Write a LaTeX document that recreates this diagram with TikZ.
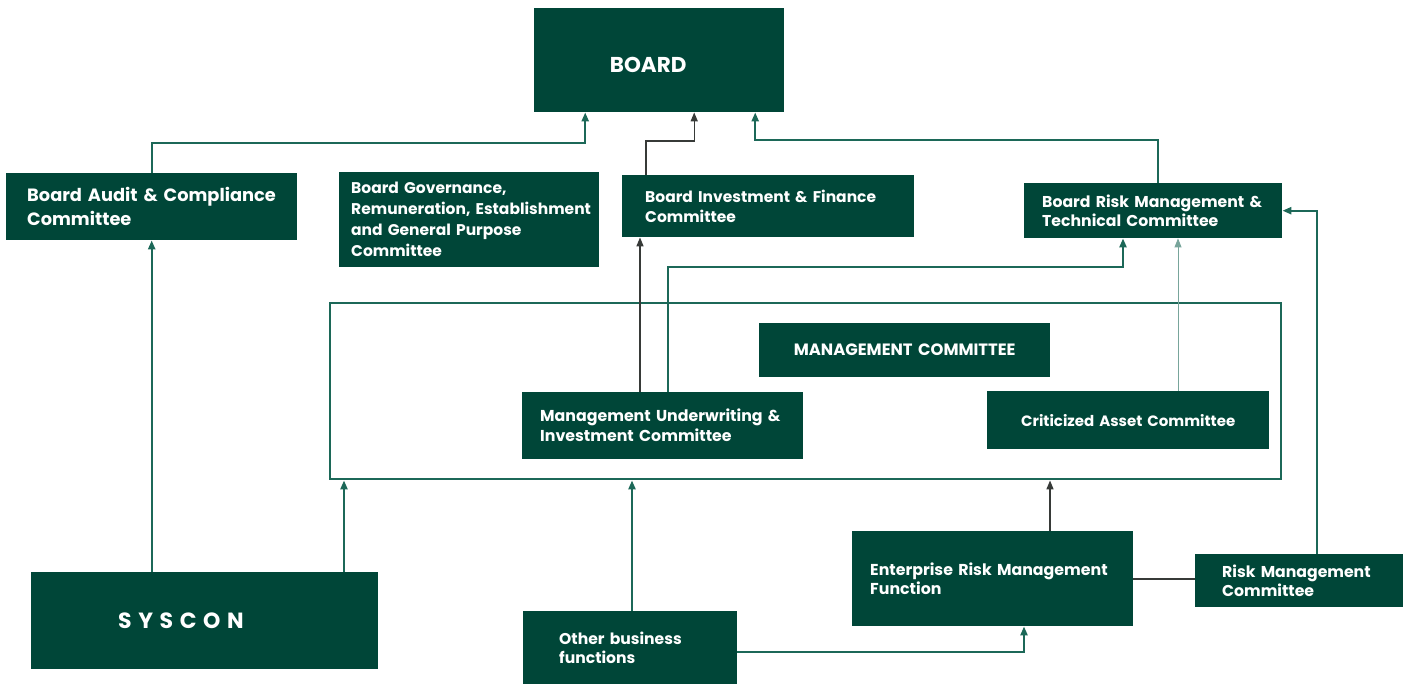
\documentclass[tikz,border=0pt]{standalone}
\usepackage{fontspec}
\setmainfont{Poppins}
\usetikzlibrary{arrows.meta}
\definecolor{boxgreen}{RGB}{0,70,56}
\definecolor{linkteal}{RGB}{28,104,88}
\definecolor{linkdark}{RGB}{55,58,56}
\definecolor{linklight}{RGB}{120,165,155}
\begin{document}
\begin{tikzpicture}[x=1pt,y=-1pt,
  box/.style={fill=boxgreen,text=white,anchor=north west,inner ysep=0pt,
    align=left,font=\bfseries\fontsize{15.7}{19.5}\selectfont},
  cbox/.style={box,align=center},
  tip/.style={-{Triangle[length=9pt,width=7pt]}},
  tealink/.style={draw=linkteal,line width=2.2pt,tip},
  darklink/.style={draw=linkdark,line width=1.4pt,tip},
  lightlink/.style={draw=linklight,line width=0.9pt,tip},
  frame/.style={draw=linkteal,line width=2.4pt}]
\useasboundingbox (0,0) rectangle (1407,684);

% boxes
\node[cbox,minimum height=104pt,text width=250pt,inner xsep=0pt,
  font=\bfseries\fontsize{21.5}{24}\selectfont] (board) at (534,8)
  {\hspace*{-22pt}\rule{0pt}{24pt}BOARD};
\node[box,minimum height=67pt,inner xsep=21pt,text width=249pt,
  font=\bfseries\fontsize{17.8}{24}\selectfont] (bacc) at (6,173)
  {\mbox{Board Audit \& Compliance}\\Committee};
\node[box,minimum height=95pt,inner xsep=12pt,text width=236pt,
  font=\bfseries\fontsize{15.5}{21}\selectfont] (bgov) at (339,172)
  {\mbox{Board Governance,}\\\mbox{Remuneration, Establishment}\\\mbox{and General Purpose}\\Committee};
\node[box,minimum height=62pt,inner xsep=23pt,text width=246pt,
  font=\bfseries\fontsize{15.5}{19.5}\selectfont] (bifc) at (622,175)
  {\mbox{Board Investment \& Finance}\\Committee};
\node[box,minimum height=55pt,inner xsep=18pt,text width=222pt] (brmtc) at (1024,183)
  {\mbox{Board Risk Management \&}\\\mbox{Technical Committee}};

% management committee frame
\node[frame,anchor=north west,minimum width=951pt,minimum height=176pt,inner sep=0pt] (mgmt) at (329,302) {};
\node[cbox,minimum height=54pt,inner xsep=0pt,text width=291pt,
  font=\bfseries\fontsize{16.4}{19.5}\selectfont] (mc) at (759,323) {MANAGEMENT COMMITTEE};
\node[box,minimum height=67pt,inner xsep=18pt,text width=245pt,
  font=\bfseries\fontsize{15.8}{20}\selectfont] (muic) at (522,392)
  {\mbox{Management Underwriting \&}\\\mbox{Investment Committee}};
\node[cbox,minimum height=58pt,inner xsep=0pt,text width=282pt,
  font=\bfseries\fontsize{15}{19.5}\selectfont] (cac) at (987,391) {Criticized Asset Committee};

% lower boxes
\node[box,minimum height=97pt,inner xsep=0pt,text width=347pt,
  font=\bfseries\fontsize{22}{24}\selectfont] (syscon) at (31,572)
  {\hspace*{87pt}\addfontfeature{LetterSpace=30}SYSCON};
\node[box,minimum height=73pt,inner xsep=36pt,text width=142pt,
  font=\bfseries\fontsize{15.6}{19.5}\selectfont] (obf) at (523,611)
  {\mbox{Other business}\\functions};
\node[box,minimum height=95pt,inner xsep=18pt,text width=245pt,
  font=\bfseries\fontsize{15.8}{18.5}\selectfont] (ermf) at (852,531)
  {\mbox{Enterprise Risk Management}\\Function};
\node[box,minimum height=53pt,inner xsep=27pt,text width=154pt] (rmc) at (1195,554)
  {\mbox{Risk Management}\\Committee};

% reporting lines to the board
\draw[tealink] (bacc.north) -- ++(0,-30) -| ([xshift=-74pt]board.south);
\draw[darklink] ([xshift=24pt]bifc.north west) -- ++(0,-34) -| ([xshift=35pt]board.south);
\draw[tealink] ([xshift=134pt]brmtc.north west) -- ++(0,-43) -| ([xshift=96pt]board.south);

% lines from the management committee
\coordinate (m1) at ([xshift=118pt]muic.north west);
\draw[darklink] (m1) -- (m1 |- bifc.south);
\coordinate (m2) at ([xshift=146pt]muic.north west);
\coordinate (m3) at ([xshift=99pt]brmtc.south west);
\draw[tealink] (m2) -- ++(0,-125) -| (m3);
\coordinate (c1) at ([xshift=191pt]cac.north west);
\draw[lightlink] (c1) -- (c1 |- brmtc.south);

% lines into the management committee
\draw[tealink] (bacc.south |- syscon.north) -- (bacc.south);
\coordinate (s2) at ([xshift=313pt]syscon.north west);
\draw[tealink] (s2) -- (s2 |- mgmt.south);
\coordinate (o1) at ([xshift=109pt]obf.north west);
\draw[tealink] (o1) -- (o1 |- mgmt.south);
\coordinate (o2) at ([yshift=-4pt]obf.east);
\coordinate (e1) at ([xshift=172pt]ermf.south west);
\draw[tealink] (o2) -| (e1);
\coordinate (e2) at ([xshift=198pt]ermf.north west);
\draw[darklink] (e2) -- (e2 |- mgmt.south);
\draw[draw=linkdark,line width=2pt] (ermf.east) -- (ermf.east -| rmc.west);
\coordinate (r1) at ([xshift=122pt]rmc.north west);
\draw[tealink] (r1) |- (brmtc.east);
\end{tikzpicture}
\end{document}
